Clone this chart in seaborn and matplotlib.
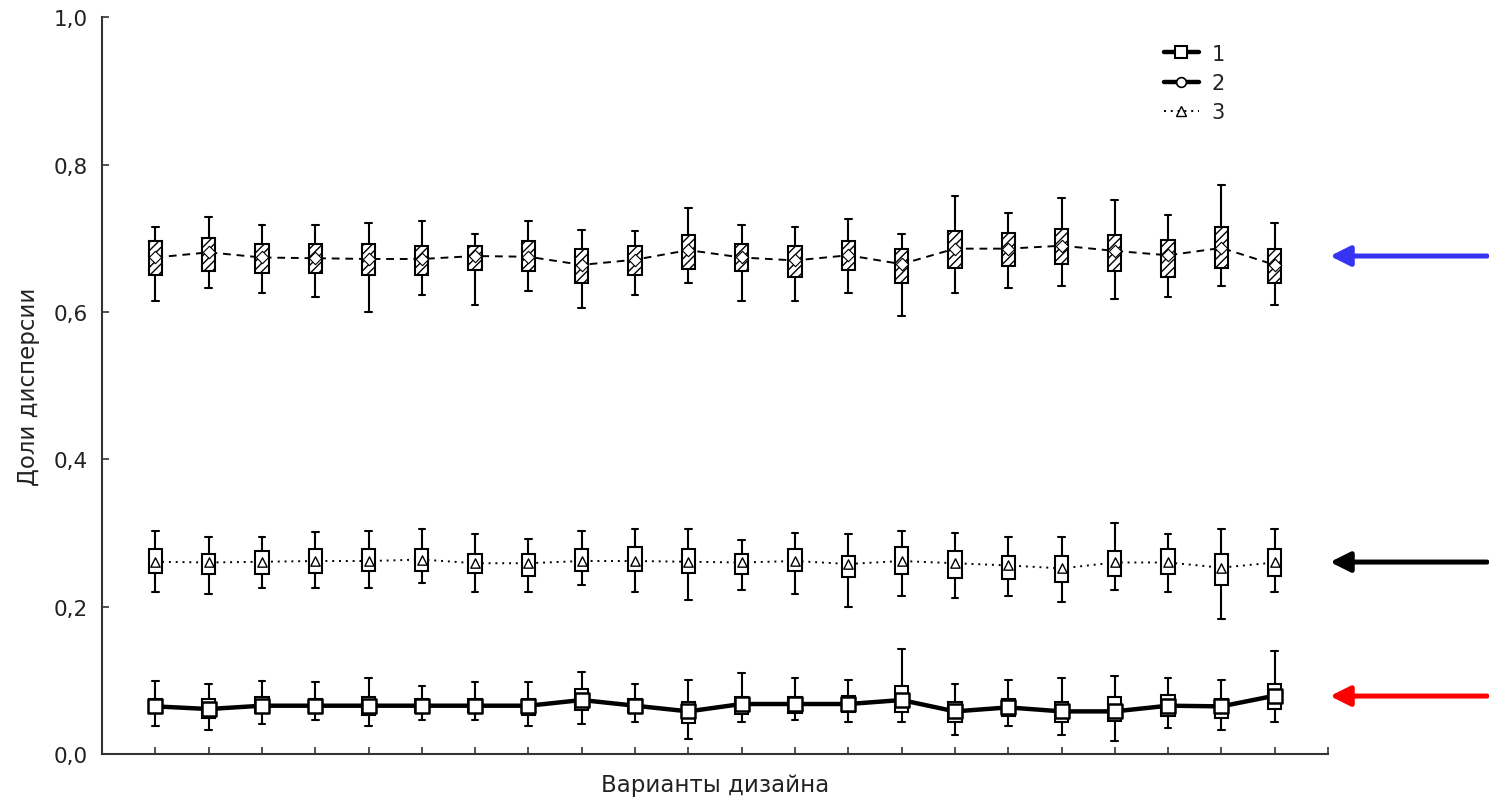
import numpy as np
import pandas as pd
import matplotlib
matplotlib.use("Agg")
import matplotlib.pyplot as plt
from matplotlib.lines import Line2D
import seaborn as sns

# Design variants on the x axis
variants = list(range(1, 23))

# Series 1 (lower group): min, lower quartile, centre, upper quartile, max
s1_min = [0.0375, 0.0321, 0.0407, 0.0461, 0.0375, 0.0461, 0.0461, 0.0375, 0.0407, 0.0430, 0.0203,
          0.0430, 0.0461, 0.0430, 0.0430, 0.0258, 0.0375, 0.0258, 0.0172, 0.0348, 0.0321, 0.0430]
s1_q1 = [0.0552, 0.0484, 0.0556, 0.0565, 0.0529, 0.0565, 0.0565, 0.0529, 0.0602, 0.0565, 0.0416,
         0.0543, 0.0556, 0.0565, 0.0565, 0.0430, 0.0520, 0.0439, 0.0452, 0.0520, 0.0488, 0.0611]
s1_mid = [0.0647, 0.0611, 0.0656, 0.0656, 0.0656, 0.0656, 0.0656, 0.0656, 0.0733, 0.0656, 0.0579,
          0.0679, 0.0679, 0.0679, 0.0733, 0.0579, 0.0633, 0.0579, 0.0579, 0.0656, 0.0647, 0.0792]
s1_q3 = [0.0746, 0.0746, 0.0769, 0.0746, 0.0769, 0.0746, 0.0746, 0.0746, 0.0882, 0.0746, 0.0710,
         0.0769, 0.0769, 0.0792, 0.0927, 0.0710, 0.0746, 0.0710, 0.0769, 0.0805, 0.0746, 0.0950]
s1_max = [0.0995, 0.0946, 0.0995, 0.0973, 0.1032, 0.0918, 0.0973, 0.0973, 0.1117, 0.0950, 0.1004,
          0.1095, 0.1032, 0.0999, 0.1425, 0.0950, 0.1004, 0.1032, 0.1063, 0.1032, 0.1004, 0.1403]

# Series 2 (upper group)
s2_min = [0.615, 0.632, 0.626, 0.620, 0.600, 0.623, 0.609, 0.629, 0.606, 0.623, 0.640,
          0.615, 0.615, 0.626, 0.595, 0.626, 0.632, 0.635, 0.618, 0.620, 0.635, 0.609]
s2_q1 = [0.650, 0.656, 0.653, 0.653, 0.650, 0.650, 0.657, 0.656, 0.639, 0.650, 0.659,
         0.656, 0.648, 0.657, 0.639, 0.660, 0.662, 0.665, 0.656, 0.648, 0.660, 0.639]
s2_mid = [0.674, 0.681, 0.674, 0.673, 0.672, 0.672, 0.676, 0.675, 0.664, 0.671, 0.684,
          0.674, 0.670, 0.677, 0.665, 0.686, 0.686, 0.690, 0.683, 0.677, 0.687, 0.664]
s2_q3 = [0.696, 0.701, 0.692, 0.692, 0.692, 0.689, 0.689, 0.696, 0.686, 0.690, 0.704,
         0.692, 0.690, 0.696, 0.686, 0.710, 0.707, 0.713, 0.704, 0.698, 0.715, 0.686]
s2_max = [0.715, 0.729, 0.718, 0.718, 0.721, 0.723, 0.706, 0.724, 0.712, 0.710, 0.741,
          0.718, 0.715, 0.726, 0.706, 0.758, 0.735, 0.755, 0.752, 0.732, 0.772, 0.721]

# Series 3 (middle group)
s3_min = [0.220, 0.217, 0.226, 0.226, 0.226, 0.232, 0.220, 0.220, 0.229, 0.220, 0.209,
          0.223, 0.217, 0.200, 0.215, 0.212, 0.215, 0.206, 0.223, 0.220, 0.183, 0.220]
s3_q1 = [0.246, 0.244, 0.244, 0.246, 0.248, 0.249, 0.246, 0.242, 0.248, 0.248, 0.246,
         0.245, 0.248, 0.240, 0.245, 0.239, 0.237, 0.234, 0.242, 0.245, 0.229, 0.242]
s3_mid = [0.261, 0.260, 0.261, 0.262, 0.262, 0.264, 0.259, 0.259, 0.262, 0.262, 0.261,
          0.260, 0.262, 0.258, 0.262, 0.259, 0.256, 0.252, 0.260, 0.260, 0.253, 0.260]
s3_q3 = [0.278, 0.272, 0.276, 0.278, 0.278, 0.278, 0.272, 0.272, 0.278, 0.281, 0.278,
         0.272, 0.278, 0.269, 0.281, 0.275, 0.269, 0.269, 0.275, 0.278, 0.272, 0.278]
s3_max = [0.303, 0.295, 0.295, 0.301, 0.303, 0.306, 0.298, 0.292, 0.303, 0.306, 0.306,
          0.291, 0.300, 0.298, 0.303, 0.300, 0.295, 0.295, 0.314, 0.298, 0.306, 0.306]

y_ticks = [0.0, 0.2, 0.4, 0.6, 0.8, 1.0]
y_tick_labels = ["0,0", "0,2", "0,4", "0,6", "0,8", "1,0"]
legend_labels = ["1", "2", "3"]
arrow_levels = [0.676, 0.2606, 0.0787]
arrow_colors = ["#3434f2", "black", "#ff0000"]

TEXT_COLOR = "#222222"


def long_frame(lo, q1, mid, q3, hi):
    rows = []
    for v, a, b, c, d, e in zip(variants, lo, q1, mid, q3, hi):
        for val in (a, b, c, d, e):
            rows.append((v, val))
    return pd.DataFrame(rows, columns=["variant", "share"])


sns.set_theme(style="white")
plt.rcParams["font.family"] = ["DejaVu Sans"]
plt.rcParams["hatch.linewidth"] = 1.0

fig = plt.figure(figsize=(14.89, 8.04), dpi=100)
ax = fig.add_axes([0.0685, 0.0609, 0.8234, 0.9163])


def draw_series(lo, q1, mid, q3, hi, hatch, ls, lw, marker, msize, mew):
    # connecting line through the centre values
    sns.lineplot(x=variants, y=mid, ax=ax, color="black", linewidth=lw,
                 linestyle=ls, zorder=1)
    n_before = len(ax.patches)
    sns.boxplot(data=long_frame(lo, q1, mid, q3, hi), x="variant", y="share",
                native_scale=True, width=0.25, whis=(0, 100), color="white",
                linecolor="black", linewidth=1.5, showfliers=False,
                medianprops={"visible": False}, ax=ax)
    for p in ax.patches[n_before:]:
        p.set_zorder(2)
        if hatch:
            p.set_hatch(hatch)
    sns.scatterplot(x=variants, y=mid, ax=ax, marker=marker, s=msize,
                    color="white", edgecolor="black", linewidth=mew, zorder=4)


draw_series(s2_min, s2_q1, s2_mid, s2_q3, s2_max, "////", (0, (4, 3)), 1.4, "D", 40, 0.8)
draw_series(s3_min, s3_q1, s3_mid, s3_q3, s3_max, None, (0, (1, 2.5)), 1.4, "^", 45, 1.0)
draw_series(s1_min, s1_q1, s1_mid, s1_q3, s1_max, None, "-", 3.2, "s", 110, 1.8)

ax.set_xlim(0, 23)
ax.set_ylim(0, 1.0)
ax.set_xticks(range(0, 24))
ax.set_xticklabels([])
ax.set_yticks(y_ticks)
ax.set_yticklabels(y_tick_labels)
ax.tick_params(axis="x", direction="in", length=5, width=1.2, color="#333333",
               labelbottom=False, bottom=True)
ax.tick_params(axis="y", direction="in", length=5, width=1.2, color="#333333",
               labelsize=15.5, labelcolor=TEXT_COLOR, pad=10, left=True)
ax.set_xlabel("Варианты дизайна", fontsize=16.5, color=TEXT_COLOR, labelpad=14)
ax.set_ylabel("Доли дисперсии", fontsize=16.5, color=TEXT_COLOR, labelpad=10)

sns.despine(ax=ax)
for side in ("left", "bottom"):
    ax.spines[side].set_color("#333333")
    ax.spines[side].set_linewidth(1.5)

handles = [
    Line2D([], [], color="black", lw=3.2, marker="s", ms=9, mfc="white", mec="black", mew=1.5),
    Line2D([], [], color="black", lw=3.2, marker="o", ms=7, mfc="white", mec="black", mew=1.2),
    Line2D([], [], color="black", lw=1.4, ls=(0, (1, 2.5)), marker="^", ms=7, mfc="white",
           mec="black", mew=1.0),
]
leg = fig.legend(handles, legend_labels, loc="upper left",
                 bbox_to_anchor=(1145 / 1489, 1 - 26 / 804),
                 frameon=False, fontsize=15, handlelength=1.7, handletextpad=0.6,
                 labelspacing=0.45, numpoints=1)
for t in leg.get_texts():
    t.set_color(TEXT_COLOR)

for level, col in zip(arrow_levels, arrow_colors):
    ax.annotate("", xy=(1330 / 1489, level), xytext=(1487 / 1489, level),
                xycoords=("figure fraction", "data"), textcoords=("figure fraction", "data"),
                annotation_clip=False,
                arrowprops=dict(arrowstyle="-|>,head_length=1.2,head_width=0.6", lw=3.6,
                                color=col, shrinkA=0, shrinkB=0, mutation_scale=10))

fig.savefig("out.png", dpi=100)
